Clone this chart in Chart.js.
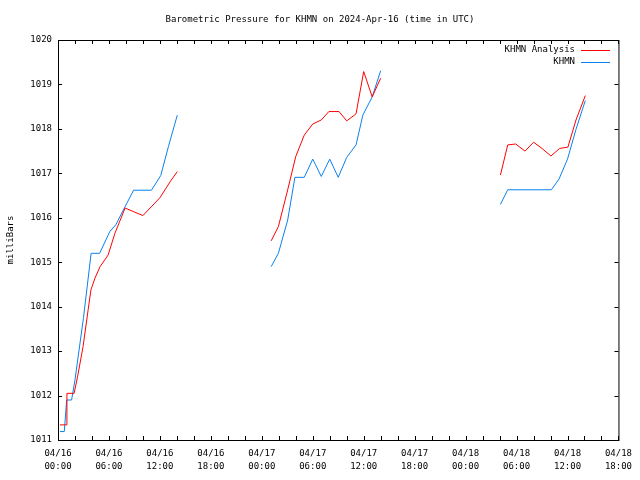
<!DOCTYPE html>
<html>
<head>
<meta charset="utf-8">
<script src="https://cdn.jsdelivr.net/npm/chart.js@4"></script>
<style>body{margin:0;background:#fff}</style>
</head>
<body>
<canvas id="grafico" width="640" height="480"></canvas>
<script>
// horas desde 04/16 00:00 UTC; null = sem dados
const horasAnalise = [0.23, 1.0, 1.05, 1.9, 2.3, 2.95, 3.55, 3.88, 4.35, 4.95, 5.9, 6.7, 7.9, 9.0, 10.0, 12.0, 13.2, 14.05,
    20,
    25.1, 25.95, 27.05, 28.0, 29.0, 30.0, 31.0, 31.9, 33.1, 34.0, 34.9, 35.1, 36.0, 37.0, 38.0,
    45,
    52.1, 52.96, 53.9, 55.0, 56.0, 57.0, 58.05, 59.07, 60.05, 61.0, 62.1];
const pressaoAnalise = [1011.34, 1011.34, 1012.05, 1012.05, 1012.42, 1013.1, 1013.93, 1014.38, 1014.64, 1014.9, 1015.16, 1015.65, 1016.22, 1016.13, 1016.05, 1016.45, 1016.81, 1017.04,
    null,
    1015.48, 1015.8, 1016.63, 1017.38, 1017.86, 1018.11, 1018.2, 1018.39, 1018.39, 1018.18, 1018.31, 1018.34, 1019.29, 1018.72, 1019.14,
    null,
    1016.96, 1017.64, 1017.66, 1017.5, 1017.7, 1017.56, 1017.39, 1017.56, 1017.59, 1018.2, 1018.75];

const horasKhmn = [0.23, 0.74, 1.02, 1.6, 2.0, 3.0, 3.9, 4.9, 6.1, 6.8, 7.9, 8.9, 11.0, 12.1, 13.0, 14.05,
    20,
    25.1, 25.95, 27.05, 27.9, 29.0, 30.0, 31.0, 32.0, 33.0, 34.0, 35.1, 35.9, 37.0, 38.0,
    45,
    52.1, 52.96, 58.1, 59.0, 60.0, 61.0, 62.1];
const pressaoKhmn = [1011.19, 1011.19, 1011.9, 1011.9, 1012.35, 1013.75, 1015.2, 1015.2, 1015.69, 1015.84, 1016.25, 1016.62, 1016.62, 1016.95, 1017.6, 1018.31,
    null,
    1014.9, 1015.2, 1015.95, 1016.91, 1016.91, 1017.32, 1016.93, 1017.32, 1016.91, 1017.36, 1017.64, 1018.31, 1018.72, 1019.31,
    null,
    1016.3, 1016.63, 1016.63, 1016.87, 1017.32, 1017.99, 1018.64];

const rotulosDia = ["04/16", "04/17", "04/18"];
const rotulosHora = ["00:00", "06:00", "12:00", "18:00"];

const fonte = "9px 'DejaVu Sans Mono'";

function pontos(horas, valores) {
    return horas.map((h, i) => ({ x: h, y: valores[i] }));
}

// moldura estilo gnuplot, ticks para dentro, titulo e legenda
const moldura = {
    id: "moldura",
    afterDraw(chart) {
        const { ctx, chartArea: a, scales: { x, y } } = chart;
        ctx.save();
        ctx.strokeStyle = "#000";
        ctx.lineWidth = 1;
        ctx.strokeRect(a.left + 0.5, a.top + 0.5, a.right - a.left, a.bottom - a.top);

        ctx.beginPath();
        for (let h = 0; h <= 66; h += 2) {
            const px = Math.round(x.getPixelForValue(h)) + 0.5;
            ctx.moveTo(px, a.bottom); ctx.lineTo(px, a.bottom - 4);
            ctx.moveTo(px, a.top); ctx.lineTo(px, a.top + 4);
        }
        for (let v = 1011; v <= 1020; v++) {
            const py = Math.round(y.getPixelForValue(v)) + 0.5;
            ctx.moveTo(a.left, py); ctx.lineTo(a.left + 4, py);
            ctx.moveTo(a.right, py); ctx.lineTo(a.right - 4, py);
        }
        ctx.stroke();

        ctx.fillStyle = "#000";
        ctx.font = fonte;
        ctx.textAlign = "center";
        ctx.textBaseline = "middle";
        ctx.fillText("Barometric Pressure for KHMN on 2024-Apr-16 (time in UTC)", 320, 20);

        ctx.save();
        ctx.translate(11, 240);
        ctx.rotate(-Math.PI / 2);
        ctx.fillText("milliBars", 0, 0);
        ctx.restore();

        // legenda
        ctx.textAlign = "right";
        chart.data.datasets.forEach((ds, i) => {
            const ly = 50 + i * 12;
            ctx.fillStyle = "#000";
            ctx.fillText(ds.label, 575, ly);
            ctx.strokeStyle = ds.borderColor;
            ctx.beginPath();
            ctx.moveTo(581, ly + 0.5);
            ctx.lineTo(610, ly + 0.5);
            ctx.stroke();
        });
        ctx.restore();
    }
};

new Chart(document.getElementById("grafico"), {
    type: "line",
    data: {
        datasets: [{
            label: "KHMN Analysis",
            data: pontos(horasAnalise, pressaoAnalise),
            borderColor: "#ff0000",
            borderWidth: 1,
            pointRadius: 0,
            tension: 0,
            spanGaps: false
        }, {
            label: "KHMN",
            data: pontos(horasKhmn, pressaoKhmn),
            borderColor: "#0a80f0",
            borderWidth: 1,
            pointRadius: 0,
            tension: 0,
            spanGaps: false
        }]
    },
    options: {
        responsive: false,
        animation: false,
        layout: { padding: { top: 40, right: 20, left: 0, bottom: 0 } },
        plugins: {
            legend: { display: false },
            title: { display: false },
            tooltip: { enabled: false }
        },
        scales: {
            x: {
                type: "linear",
                min: 0,
                max: 66,
                grid: { display: false, drawTicks: false, tickLength: 0 },
                border: { display: false },
                afterFit: s => { s.height = 40; },
                ticks: {
                    stepSize: 6,
                    padding: 8,
                    maxRotation: 0,
                    autoSkip: false,
                    color: "#000",
                    font: { family: "DejaVu Sans Mono", size: 9, lineHeight: 1.35 },
                    callback: v => [rotulosDia[Math.floor(v / 24)], rotulosHora[(v % 24) / 6]]
                }
            },
            y: {
                min: 1011,
                max: 1020,
                grid: { display: false, drawTicks: false, tickLength: 0 },
                border: { display: false },
                afterFit: s => { s.width = 58; },
                ticks: {
                    stepSize: 1,
                    padding: 6,
                    color: "#000",
                    font: { family: "DejaVu Sans Mono", size: 9 },
                    callback: v => String(v)
                }
            }
        }
    },
    plugins: [moldura]
});
</script>
</body>
</html>
